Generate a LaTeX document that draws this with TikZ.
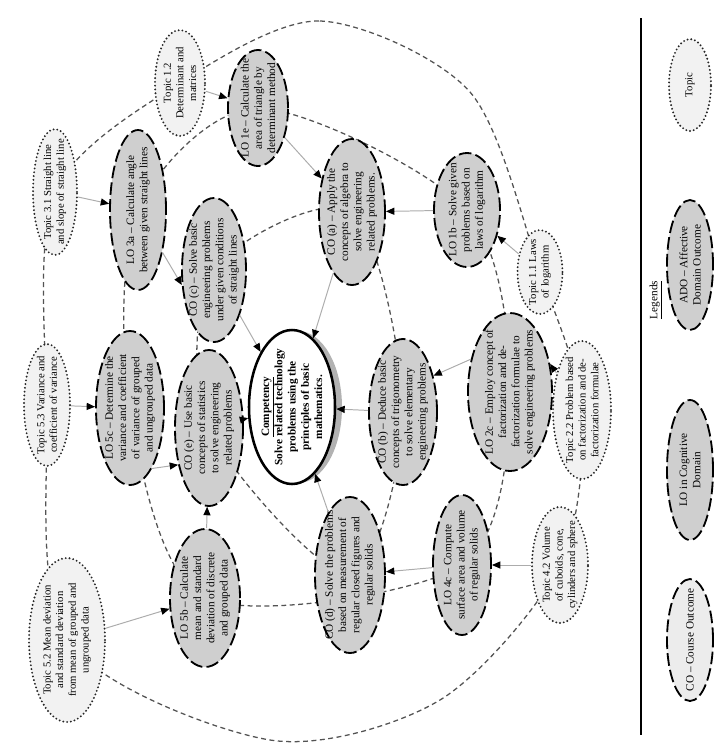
\documentclass[tikz,border=0pt]{standalone}
\usepackage{fontspec}
\setmainfont{Liberation Serif}
\usetikzlibrary{shapes.geometric,arrows.meta,backgrounds}

\begin{document}
\begin{tikzpicture}[x=0.025cm, y=-0.025cm,
  font=\fontsize{8}{9.4}\selectfont,
  sz/.style 2 args={minimum width=#1*0.025cm, minimum height=#2*0.025cm},
  blob/.style={ellipse, inner sep=0pt},
  outc/.style={blob, draw=black, fill=gray!38, line width=1.3pt, dash pattern=on 9pt off 3pt},
  topic/.style={blob, draw=black!85, fill=gray!10, line width=1.5pt, line cap=round, dash pattern=on 0pt off 2.7pt},
  txt/.style={rotate=90, align=center},
  ttxt/.style={txt, font=\fontsize{7.6}{9}\selectfont},
  ring/.style={draw=gray!65!black, line width=0.9pt, dash pattern=on 3.5pt off 2.5pt},
  arr/.style={draw=gray!65, line width=0.7pt, -{Triangle[black, length=6pt, width=5pt]}},
]
  \useasboundingbox (0,0) rectangle (725,751);
  % Competencia
  \fill[gray!60] (298,407) ellipse [x radius=44, y radius=76];
  \node[blob, draw=black, fill=white, line width=1.8pt, sz={86}{154},
    label={[txt, font=\fontsize{8}{9.4}\bfseries]center:{\underline{Competency}\\ Solve related technology\\ problems using the\\ principles of basic\\ mathematics.}}]
    (comp) at (292,407) {};
  % CO
  \node[outc, sz={66}{146}, label={[txt]center:{CO (a) -- Apply the\\ concepts of algebra to\\ solve engineering\\ related problems.}}] (coa) at (352,212) {};
  \node[outc, sz={68}{146}, label={[txt]center:{CO (b) -- Deduce basic\\ concepts of trigonometry\\ to solve elementary\\ engineering problems}}] (cob) at (403,412) {};
  \node[outc, sz={70}{156}, label={[txt]center:{CO (d) -- Solve the problems\\ based on measurement of\\ regular closed figures and\\ regular solids}}] (cod) at (350,575) {};
  \node[outc, sz={68}{156}, label={[txt]center:{CO (e) -- Use basic\\ concepts of statistics\\ to solve engineering\\ related problems}}] (coe) at (209,428) {};
  \node[outc, sz={64}{144}, label={[txt]center:{CO (c) -- Solve basic\\ engineering problems\\ under given conditions\\ of straight lines}}] (coc) at (214,270) {};
  % LO
  \node[outc, sz={60}{116}, label={[txt]center:{LO 1e -- Calculate the\\ area of triangle by\\ determinant method}}] (lo1e) at (258,108) {};
  \node[outc, sz={66}{114}, label={[txt]center:{LO 1b -- Solve given\\ problems based on\\ laws of logarithm}}] (lo1b) at (467,210) {};
  \node[outc, sz={84}{158}, label={[txt]center:{LO 2c -- Employ concept of\\ factorization and de-\\ factorization formulae to\\ solve engineering problems}}] (lo2c) at (510,392) {};
  \node[outc, sz={58}{140}, label={[txt]center:{LO 4c -- Compute\\ surface area and volume\\ of regular solids}}] (lo4c) at (462,565) {};
  \node[outc, sz={70}{138}, label={[txt]center:{LO 5b -- Calculate\\ mean and standard\\ deviation of discrete\\ and grouped data}}] (lo5b) at (205,598) {};
  \node[outc, sz={68}{154}, label={[txt]center:{LO 5c -- Determine the\\ variance and coefficient\\ of variance of grouped\\ and ungrouped data}}] (lo5c) at (130,408) {};
  \node[outc, sz={56}{160}, label={[txt]center:{LO 3a -- Calculate angle\\ between given straight lines}}] (lo3a) at (138,210) {};
  % Temas
  \node[topic, sz={50}{106}, label={[ttxt]center:{Topic 1.2\\ Determinant and\\ matrices}}] (t12) at (180,83) {};
  \node[topic, sz={45}{84}, label={[ttxt]center:{Topic 1.1 Laws\\ of logarithm}}] (t11) at (540,272) {};
  \node[topic, sz={58}{138}, label={[ttxt]center:{Topic 2.2 Problem based\\ on factorization and de-\\ factorization formulae}}] (t22) at (582,410) {};
  \node[topic, sz={56}{116}, label={[ttxt]center:{Topic 4.2 Volume\\ of cuboids, cone,\\ cylinders and sphere}}] (t42) at (560,565) {};
  \node[topic, sz={76}{164}, label={[ttxt]center:{Topic 5.2 Mean deviation\\ and standard deviation\\ from mean of grouped and\\ ungrouped data}}] (t52) at (67,640) {};
  \node[topic, sz={46}{122}, label={[ttxt]center:{Topic 5.3 Variance and\\ coefficient of variance}}] (t53) at (47,405) {};
  \node[topic, sz={44}{126}, label={[ttxt]center:{Topic 3.1 Straight line\\ and slope of straight line}}] (t31) at (55,192) {};
  % Anillos
  \coordinate (o1) at (320,21);
  \coordinate (o2) at (470,92);
  \coordinate (o3) at (440,700);
  \coordinate (o4) at (270,740);
  \begin{scope}[on background layer]
    \draw[ring] plot[smooth cycle] coordinates {(coa) (cob) (cod) (coe) (coc)};
    \draw[ring] plot[smooth cycle] coordinates {(lo1e) (lo1b) (lo2c) (lo4c) (lo5b) (lo5c) (lo3a)};
    \draw[ring] plot[smooth cycle] coordinates {(t12) (o1) (o2) (t11) (t22) (t42) (o3) (o4) (t52) (t53) (t31)};
  \end{scope}
  % Flechas
  \draw[arr] (t12) -- (lo1e);
  \draw[arr] (t11) -- (lo1b);
  \draw[arr] (t22) -- (lo2c.35);
  \draw[arr] (t42) -- (lo4c);
  \draw[arr] (t52) -- (lo5b);
  \draw[arr] (t53) -- (lo5c);
  \draw[arr] (t31) -- (lo3a);
  \draw[arr] (lo1e) -- (coa);
  \draw[arr] (lo1b) -- (coa);
  \draw[arr] (lo2c.140) -- (cob.50);
  \draw[arr] (lo4c) -- (cod);
  \draw[arr] (lo5b) -- (coe);
  \draw[arr] (lo5c.-70) -- (coe.230);
  \draw[arr] (lo3a.-60) -- (coc.205);
  \foreach \c in {coa,cob,cod,coe,coc}
    \draw[arr] (\c) -- (comp);
  % Leyenda
  \coordinate (lineTop) at (641,18);
  \coordinate (lineBot) at (641,735);
  \draw[line width=0.8pt] (lineTop) -- (lineBot);
  \node[txt] (leg) at (656,300) {\underline{Legends}};
  \node[topic, sz={42}{92}, label={[ttxt]center:{Topic}}] (legt) at (690,85) {};
  \node[outc, sz={46}{130}, label={[txt]center:{ADO -- Affective\\ Domain Outcome}}] (legado) at (690,265) {};
  \node[outc, sz={46}{140}, label={[txt]center:{LO in Cognitive\\ Domain}}] (leglo) at (690,470) {};
  \node[outc, fill=gray!15, sz={46}{122}, label={[txt]center:{CO -- Course Outcome}}] (legco) at (690,640) {};
\end{tikzpicture}
\end{document}
